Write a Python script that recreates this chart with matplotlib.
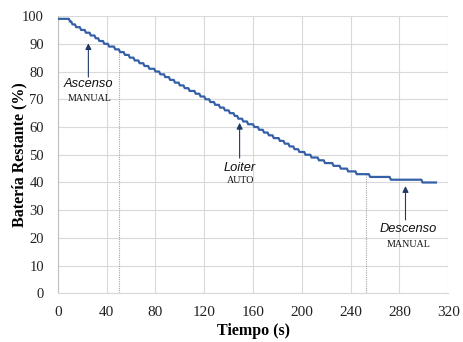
import matplotlib
matplotlib.use("Agg")
import matplotlib.pyplot as plt

# instantes (s) en que la batería baja a cada nivel (%)
tiempos = [0, 10, 12, 15, 19, 23, 27, 31, 34, 38, 42, 47, 51, 55, 59, 63, 67, 71, 75,
           80, 84, 88, 92, 96, 100, 104, 108, 113, 117, 121, 125, 129, 133, 137, 141,
           145, 148, 152, 156, 161, 165, 169, 173, 177, 182, 186, 190, 194, 198, 203,
           208, 214, 219, 226, 232, 238, 245, 256, 273, 299, 310]
bateria = [99, 98, 97, 96, 95, 94, 93, 92, 91, 90, 89, 88, 87, 86, 85, 84, 83, 82, 81,
           80, 79, 78, 77, 76, 75, 74, 73, 72, 71, 70, 69, 68, 67, 66, 65,
           64, 63, 62, 61, 60, 59, 58, 57, 56, 55, 54, 53, 52, 51, 50,
           49, 48, 47, 46, 45, 44, 43, 42, 41, 40, 40]

# cambios de modo de vuelo
cambios_t = [50, 253]
cambios_v = [88, 43]

# anotaciones: (texto, modo, x flecha, punta, cola, x texto, y texto, y modo)
notas = [
    ("Ascenso", "MANUAL", 25, 90.2, 78, 25, 75.5, 70.2),
    ("Loiter", "AUTO", 149, 61.5, 48.8, 149, 45.3, 40.6),
    ("Descenso", "MANUAL", 285, 38.7, 26.5, 287, 23.1, 17.7),
]

# muestreo cada segundo: el nivel se mantiene hasta el segundo anterior al cambio
xs, ys = [], []
for i in range(len(tiempos) - 1):
    xs += [tiempos[i], tiempos[i + 1] - 1]
    ys += [bateria[i], bateria[i]]
xs.append(tiempos[-1])
ys.append(bateria[-1])

fig = plt.figure(figsize=(4.63, 3.42), dpi=100)
ax = fig.add_axes([0.125, 0.142, 0.843, 0.811])

ax.plot(xs, ys, color="#3560A8", lw=1.6, zorder=3, solid_joinstyle="round")
ax.vlines(cambios_t, 0, cambios_v, colors="#A6A6A6", linestyles=(0, (1, 1)), lw=0.8, zorder=2)

for txt, modo, xa, yp, yc, xt, yt, ym in notas:
    ax.annotate("", xy=(xa, yp), xytext=(xa, yc),
                arrowprops=dict(arrowstyle="-|>", color="#1F3864", lw=0.8,
                                mutation_scale=9, shrinkA=0, shrinkB=0), zorder=4)
    ax.text(xt, yt, txt, ha="center", va="center", style="italic",
            family="Liberation Sans", fontsize=9.3, color="#111111")
    ax.text(xt + 1, ym, modo, ha="center", va="center",
            family="Liberation Serif", fontsize=7.2, color="#111111")

ax.set_xlim(0, 320)
ax.set_ylim(0, 100)
ax.set_xticks(range(0, 321, 40))
ax.set_yticks(range(0, 101, 10))
ax.grid(True, color="#D9D9D9", lw=0.8)
ax.set_axisbelow(True)
for s in ["top", "right"]:
    ax.spines[s].set_visible(False)
ax.spines["left"].set_color("#BFBFBF")
ax.spines["bottom"].set_color("#D9D9D9")
ax.tick_params(axis="x", length=0, pad=9, labelsize=11)
ax.tick_params(axis="y", length=0, pad=10, labelsize=10.5)
for lab in ax.get_xticklabels() + ax.get_yticklabels():
    lab.set_family("Liberation Serif")
    lab.set_color("#222222")

ax.set_xlabel("Tiempo (s)", family="Liberation Serif", fontweight="bold", fontsize=11.5, labelpad=3)
ax.set_ylabel("Batería Restante (%)", family="Liberation Serif", fontweight="bold", fontsize=11.5, labelpad=-4)

fig.savefig("out.png", dpi=100)
